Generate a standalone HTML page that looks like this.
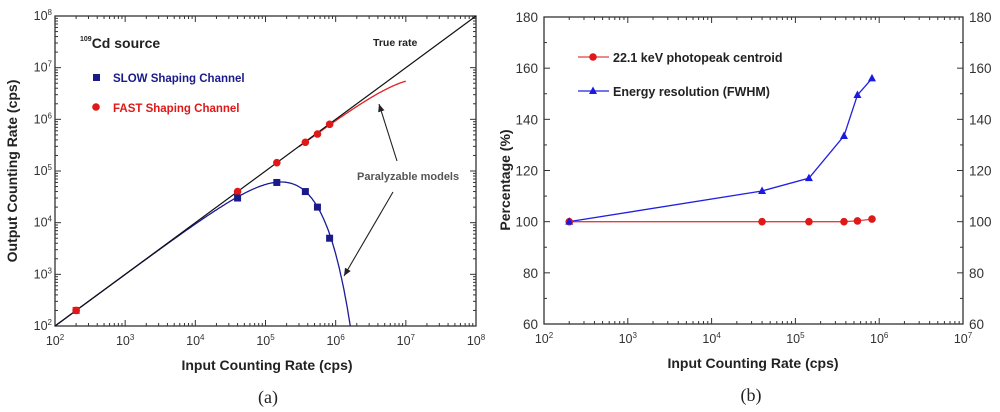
<!DOCTYPE html>
<html><head><meta charset="utf-8"><style>
body{margin:0;background:#fff;width:1000px;height:412px;overflow:hidden}
svg{display:block;font-family:"Liberation Sans",Arial,sans-serif}
.tk{font-size:12.5px;fill:#333}
.ttl{font-size:13.5px;font-weight:bold;fill:#222}
.cap{font-family:"Liberation Serif",serif;font-size:18px;fill:#222}
</style></head><body>
<svg id="c" width="1000" height="412"></svg>
<script>
// Panel (a) data
const slowX=[4e4,1.45e5,3.7e5,5.5e5,8.2e5];
const slowY=[3e4,6e4,4e4,2e4,5e3];
const fastX=[200,4e4,1.45e5,3.7e5,5.5e5,8.2e5];
const fastY=[200,4e4,1.45e5,3.6e5,5.2e5,8e5];
const slowTau=[6e-6];
const fastTau=[6e-8];
const aTicks=[2,3,4,5,6,7,8];
// Panel (b) data
const bX=[200,4e4,1.45e5,3.8e5,5.5e5,8.2e5];
const centroid=[100,100,100,100,100.3,101];
const fwhm=[100,112,117,133.5,149.5,156];
const bXTicks=[2,3,4,5,6,7];
const bYTicks=[60,80,100,120,140,160,180];

const NS="http://www.w3.org/2000/svg";
const svg=document.getElementById('c');
function mk(t,a,p){const e=document.createElementNS(NS,t);for(const k in a)e.setAttribute(k,a[k]);(p||svg).appendChild(e);return e;}
function txt(x,y,s,cls,anchor,extra){const e=mk('text',Object.assign({x:x,y:y,class:cls,'text-anchor':anchor||'middle'},extra||{}));e.innerHTML=s;return e;}

// ---------- Panel A ----------
const A={x0:55,x1:476,y0:16,y1:326};
const ax=v=>A.x0+(Math.log10(v)-2)/6*(A.x1-A.x0);
const ay=v=>A.y1-(Math.log10(v)-2)/6*(A.y1-A.y0);
const gA=mk('g',{});


mk('defs',{}).innerHTML='<clipPath id="ca"><rect x="55" y="16" width="421" height="310"/></clipPath><marker id="ar" markerWidth="8" markerHeight="8" refX="7" refY="4" orient="auto"><path d="M0,1 L7,4 L0,7 z" fill="#222"/></marker>';
mk('rect',{x:A.x0,y:A.y0,width:A.x1-A.x0,height:A.y1-A.y0,fill:'none',stroke:'#333','stroke-width':1.3},gA);
aTicks.forEach(d=>{
  const x=ax(10**d),y=ay(10**d);
  const tx=txt(x,345,'10<tspan dy="-5" font-size="8">'+d+'</tspan>','tk');
  
  const ty=txt(52,y+4,'10<tspan dy="-5" font-size="8">'+d+'</tspan>','tk','end');
  
  if(d<8){
    for(let m=1;m<10;m++){
      const L=m==1?6:3;
      const xx=ax(m*10**d),yy=ay(m*10**d);
      mk('line',{x1:xx,x2:xx,y1:A.y1,y2:A.y1-L,stroke:'#333'},gA);
      mk('line',{x1:xx,x2:xx,y1:A.y0,y2:A.y0+L,stroke:'#333'},gA);
      mk('line',{x1:A.x0,x2:A.x0+L,y1:yy,y2:yy,stroke:'#333'},gA);
      mk('line',{x1:A.x1,x2:A.x1-L,y1:yy,y2:yy,stroke:'#333'},gA);
    }
  }
});
const tA=txt(267,370,'Input Counting Rate (cps)','ttl',null,{style:'font-size:14px'});
const yA=txt(0,0,'Output Counting Rate (cps)','ttl','middle',{transform:'translate(17,171) rotate(-90)',style:'font-size:14px'});
// models
function model(tau,xmin,xmax){let p='';const a=Math.log10(xmin),b=Math.log10(xmax);for(let i=0;i<=300;i++){const n=10**(a+i/300*(b-a));const m=n*Math.exp(-n*tau);if(m<50)break;p+=(i?'L':'M')+ax(n).toFixed(1)+','+ay(m).toFixed(1);}return p;}
const sm=mk('path',{d:model(slowTau[0],100,1e7),fill:'none',stroke:'#1a1a9a','stroke-width':1.3,'clip-path':'url(#ca)'},gA);

const fm=mk('path',{d:model(fastTau[0],3e5,1e7),fill:'none',stroke:'#e02020','stroke-width':1.3},gA);

// true rate
const tr=mk('line',{x1:ax(100),y1:ay(100),x2:ax(1e8),y2:ay(1e8),stroke:'#111','stroke-width':1.2},gA);

fastX.forEach((x,i)=>{const c=mk('circle',{cx:ax(x),cy:ay(fastY[i]),r:3.8,fill:'#e01818'},gA);});
slowX.forEach((x,i)=>{const r=mk('rect',{x:ax(x)-3.5,y:ay(slowY[i])-3.5,width:7,height:7,fill:'#1a1a8a'},gA);});
const r0=mk('rect',{x:ax(200)-3.5,y:ay(200)-3.5,width:7,height:7,fill:'#e01818'},gA);

const t1=txt(80,48,'<tspan font-size="7" dy="-7">109</tspan><tspan dy="7">Cd source</tspan>','ttl','start',{style:'font-size:14px'});
const t2=txt(373,46,'True rate','ttl','start',{style:'font-size:10.5px'});
mk('rect',{x:93,y:74,width:7,height:7,fill:'#1a1a8a'},gA);
const l1=txt(113,82,'SLOW Shaping Channel','ttl','start',{style:'font-size:11.5px;fill:#1a1a8a'});
mk('circle',{cx:96,cy:107,r:3.8,fill:'#e01818'},gA);
const l2=txt(113,112,'FAST  Shaping Channel','ttl','start',{style:'font-size:11.5px;fill:#e01818'});
const pm=txt(357,180,'Paralyzable models','ttl','start',{style:'font-size:11px;fill:#555'});
mk('line',{x1:397,y1:161,x2:379,y2:104,stroke:'#222','stroke-width':1.1,'marker-end':'url(#ar)'},gA);
mk('line',{x1:393,y1:192,x2:344,y2:276,stroke:'#222','stroke-width':1.1,'marker-end':'url(#ar)'},gA);
const cA=txt(268,403,'(a)','cap');

// ---------- Panel B ----------
const B={x0:544,x1:963,y0:17,y1:324};
const bx=v=>B.x0+(Math.log10(v)-2)/5*(B.x1-B.x0);
const by=v=>B.y1-(v-60)/120*(B.y1-B.y0);
const gB=mk('g',{});


mk('rect',{x:B.x0,y:B.y0,width:B.x1-B.x0,height:B.y1-B.y0,fill:'none',stroke:'#333','stroke-width':1.3},gB);
bXTicks.forEach(d=>{
  const x=bx(10**d);
  const t=txt(x,343,'10<tspan dy="-5" font-size="8">'+d+'</tspan>','tk');
  if(d<7)for(let m=1;m<10;m++){const L=m==1?6:3;const xx=bx(m*10**d);
    mk('line',{x1:xx,x2:xx,y1:B.y1,y2:B.y1-L,stroke:'#333'},gB);
    mk('line',{x1:xx,x2:xx,y1:B.y0,y2:B.y0+L,stroke:'#333'},gB);}
});
bYTicks.forEach(v=>{
  const y=by(v);
  const a=txt(538,y+5,v,'tk','end',{style:'font-size:13.5px'});
  const b=txt(969,y+5,v,'tk','start',{style:'font-size:13.5px'});
  mk('line',{x1:B.x0,x2:B.x0+6,y1:y,y2:y,stroke:'#333'},gB);mk('line',{x1:B.x1,x2:B.x1-6,y1:y,y2:y,stroke:'#333'},gB);
  if(v<180){const ym=by(v+10);mk('line',{x1:B.x0,x2:B.x0+3,y1:ym,y2:ym,stroke:'#333'},gB);mk('line',{x1:B.x1,x2:B.x1-3,y1:ym,y2:ym,stroke:'#333'},gB);}
});
const tB=txt(753,368,'Input  Counting Rate (cps)','ttl',null,{style:'font-size:14px'});
const yB=txt(0,0,'Percentage (%)','ttl','middle',{transform:'translate(510,180) rotate(-90)',style:'font-size:14px'});
const lr=mk('polyline',{points:bX.map((x,i)=>bx(x)+','+by(centroid[i])).join(' '),fill:'none',stroke:'#e04040','stroke-width':1.3},gB);

const lb=mk('polyline',{points:bX.map((x,i)=>bx(x)+','+by(fwhm[i])).join(' '),fill:'none',stroke:'#2020e0','stroke-width':1.3},gB);

bX.forEach((x,i)=>{const c=mk('circle',{cx:bx(x),cy:by(centroid[i]),r:3.8,fill:'#e01818'},gB);});
bX.forEach((x,i)=>{const X=bx(x),Y=by(fwhm[i]);const p=mk('polygon',{points:`${X},${Y-4.5} ${X-4},${Y+3} ${X+4},${Y+3}`,fill:'#1a1ae0'},gB);});
mk('line',{x1:578,x2:609,y1:57,y2:57,stroke:'#e04040','stroke-width':1.3},gB);
mk('circle',{cx:593,cy:57,r:3.8,fill:'#e01818'},gB);
const lg1=txt(613,62,'22.1 keV photopeak centroid','ttl','start',{style:'font-size:12.5px'});
mk('line',{x1:578,x2:609,y1:91,y2:91,stroke:'#2020e0','stroke-width':1.3},gB);
mk('polygon',{points:'593,86.5 589,94 597,94',fill:'#1a1ae0'},gB);
const lg2=txt(613,96,'Energy resolution (FWHM)','ttl','start',{style:'font-size:12.5px'});
const cB=txt(751,401,'(b)','cap');
</script>
</body></html>
